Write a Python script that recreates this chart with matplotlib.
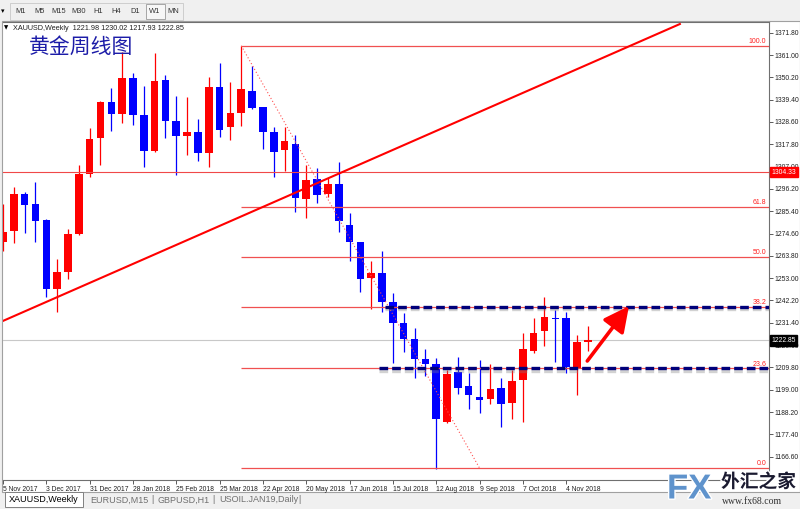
import matplotlib
matplotlib.use('Agg')
import matplotlib.pyplot as plt
import matplotlib.patheffects as pe
import matplotlib.transforms as mtransforms
from matplotlib.patches import Rectangle
import numpy as np

plt.rcParams['font.family'] = ['Liberation Sans', 'Noto Sans CJK SC', 'DejaVu Sans']

# weekly XAUUSD candles, 5 Nov 2017 .. 18 Nov 2018
opens = [1270.5, 1275.8, 1293.9, 1288.9, 1281.1, 1247.7, 1256.0, 1274.4, 1303.4, 1320.7,
         1338.3, 1332.5, 1349.9, 1332.0, 1314.7, 1348.8, 1329.2, 1321.8, 1323.7, 1313.7,
         1345.7, 1326.3, 1333.1, 1343.7, 1335.6, 1323.9, 1315.0, 1317.9, 1291.2, 1300.8,
         1293.6, 1298.7, 1278.7, 1270.3, 1252.9, 1255.3, 1241.6, 1231.1, 1223.4, 1214.0,
         1211.4, 1183.5, 1207.7, 1201.0, 1195.3, 1194.5, 1199.7, 1192.7, 1203.7, 1217.9,
         1227.4, 1233.9, 1233.6, 1209.4, 1221.98]
highs = [1288.9, 1297.1, 1294.7, 1299.5, 1281.5, 1262.3, 1276.8, 1307.8, 1325.7, 1338.9,
         1345.0, 1362.5, 1352.3, 1346.1, 1362.1, 1351.3, 1341.3, 1340.7, 1330.0, 1350.5,
         1357.0, 1348.1, 1365.5, 1355.7, 1335.8, 1326.0, 1326.0, 1322.3, 1307.9, 1306.5,
         1301.6, 1309.4, 1284.4, 1270.5, 1261.3, 1266.1, 1246.0, 1236.0, 1228.7, 1218.6,
         1214.5, 1208.5, 1215.0, 1207.2, 1213.4, 1211.4, 1204.5, 1208.5, 1226.6, 1233.6,
         1244.0, 1237.6, 1236.8, 1225.5, 1230.02]
lows = [1266.1, 1270.0, 1274.8, 1270.5, 1243.8, 1236.6, 1252.6, 1274.0, 1302.0, 1307.8,
        1324.2, 1328.2, 1327.1, 1307.0, 1314.2, 1320.7, 1302.9, 1312.6, 1309.7, 1307.0,
        1321.2, 1319.9, 1326.6, 1334.9, 1315.4, 1301.8, 1304.9, 1284.9, 1282.0, 1289.2,
        1292.5, 1275.5, 1261.3, 1246.1, 1238.1, 1236.8, 1211.8, 1217.4, 1204.5, 1205.8,
        1160.4, 1183.0, 1196.8, 1189.7, 1187.9, 1192.1, 1181.1, 1184.8, 1183.5, 1216.9,
        1220.2, 1212.6, 1206.9, 1196.4, 1217.93]
closes = [1275.3, 1293.7, 1288.5, 1280.7, 1247.7, 1256.0, 1274.4, 1303.4, 1320.3, 1338.4,
          1332.5, 1349.9, 1332.0, 1314.5, 1348.6, 1329.2, 1321.8, 1323.6, 1313.7, 1345.7,
          1324.7, 1333.1, 1344.4, 1335.5, 1323.9, 1313.9, 1319.4, 1291.8, 1300.5, 1293.1,
          1298.6, 1280.7, 1270.3, 1252.6, 1255.3, 1241.6, 1231.1, 1223.4, 1214.0, 1211.4,
          1184.7, 1206.5, 1199.7, 1196.4, 1194.2, 1199.3, 1192.1, 1203.4, 1218.6, 1226.6,
          1234.3, 1233.1, 1209.8, 1222.2, 1222.85]

date_labels = ['5 Nov 2017', '3 Dec 2017', '31 Dec 2017', '28 Jan 2018', '25 Feb 2018',
               '25 Mar 2018', '22 Apr 2018', '20 May 2018', '17 Jun 2018', '15 Jul 2018',
               '12 Aug 2018', '9 Sep 2018', '7 Oct 2018', '4 Nov 2018']
price_ticks = [1166.60, 1177.40, 1188.20, 1199.00, 1209.80, 1220.60, 1231.40, 1242.20,
               1253.00, 1263.80, 1274.60, 1285.40, 1296.20, 1307.00, 1317.80, 1328.60,
               1339.40, 1350.20, 1361.00, 1371.80]

# objects drawn on the chart
fib_high = (22, 1365.5)
fib_low = (44, 1161.1)
fib_ratios = [0.0, 0.236, 0.382, 0.5, 0.618, 1.0]
fib_names = ['0.0', '23.6', '38.2', '50.0', '61.8', '100.0']
hline_price = 1304.33
last_price = 1222.85
trend_start = (0, 1232.3)
trend_end = (62.5, 1376.0)
box_top_start = 35.3
box_bottom_start = 34.7
arrow_from = (53.95, 1212.9)
arrow_to = (57.8, 1239.5)

W, H = 800, 509
fig = plt.figure(figsize=(8, 5.09), dpi=100)
fig.patch.set_facecolor('#f0f0f0')


def fx(x):
    return x / W


def fy(y):
    return 1 - y / H


# chart window
fig.patches.append(Rectangle((fx(2), fy(492)), fx(798), 471 / H, transform=fig.transFigure,
                             facecolor='white', edgecolor='#a0a0a0', lw=0.8, zorder=-5))

ax = fig.add_axes([fx(3), fy(480), fx(766), 458 / H])
ax.set_xlim(0, 70.73)
ax.set_ylim(1155.3, 1376.98)
ax.patch.set_alpha(0)

o = np.array(opens)
c = np.array(closes)
hi = np.array(highs)
lo = np.array(lows)
x = np.arange(len(o))
cols = np.where(c >= o, '#ff0000', '#0000ff')

ax.vlines(x, lo, hi, colors=cols, lw=0.9, zorder=2)
ax.bar(x, np.maximum(np.abs(c - o), 0.6), bottom=np.minimum(o, c), width=0.7,
       color=cols, lw=0, zorder=3)

# current price line
ax.axhline(last_price, color='#c8c8c8', lw=0.8, zorder=1)
ax.axhline(hline_price, color='#f04848', lw=0.8, zorder=4)

# fibonacci retracement
x_end = ax.get_xlim()[1]
for r, name in zip(fib_ratios, fib_names):
    lvl = fib_low[1] + r * (fib_high[1] - fib_low[1])
    ax.hlines(lvl, fib_high[0], x_end, color='#f05050', lw=0.9, zorder=4)
    ax.text(x_end - 0.25, lvl + 0.4, name, color='#ff2020', fontsize=5,
            ha='right', va='bottom', zorder=6)
ax.plot([fib_high[0], fib_low[0]], [fib_high[1], fib_low[1]], color='#ff5050',
        lw=0.8, ls=(0, (1, 2)), zorder=4)

# trendline
ax.plot([trend_start[0], trend_end[0]], [trend_start[1], trend_end[1]],
        color='#ff0000', lw=1.5, zorder=5)

# dashed channel lines
lvl38 = fib_low[1] + 0.382 * (fib_high[1] - fib_low[1])
lvl23 = fib_low[1] + 0.236 * (fib_high[1] - fib_low[1])
shadow = [pe.SimpleLineShadow(offset=(0, -2), shadow_color='#808080', alpha=0.35),
          pe.Normal()]
for start, lvl in [(box_top_start, lvl38), (box_bottom_start, lvl23)]:
    ax.plot([start, x_end], [lvl, lvl], color='#00007a', lw=2.4,
            ls=(0, (2.6, 1.2)), zorder=6, path_effects=shadow, solid_capstyle='butt')

# arrow
ax.annotate('', xy=arrow_to, xytext=arrow_from,
            arrowprops=dict(arrowstyle='-|>,head_length=1.1,head_width=0.55',
                            color='#ff0000', lw=2.6, mutation_scale=14,
                            shrinkA=0, shrinkB=0), zorder=7)

# axes styling
ax.spines['left'].set_visible(False)
for side in ['top', 'right', 'bottom']:
    ax.spines[side].set_color('#707070')
    ax.spines[side].set_linewidth(0.8)

ax.yaxis.tick_right()
ax.set_yticks(price_ticks)
ax.set_yticklabels(['%.2f' % v for v in price_ticks])
ax.set_xticks(np.arange(0, 4 * len(date_labels), 4))
ax.set_xticklabels(date_labels)
for lab in ax.get_xticklabels():
    lab.set_ha('left')
ax.tick_params(axis='both', length=3, width=0.6, color='#404040', labelsize=4.9,
               pad=1.2, labelcolor='#202020')

# right price boxes
trans = mtransforms.blended_transform_factory(ax.transAxes, ax.transData)
ax.text(1.003, hline_price, '%.2f' % hline_price, transform=trans, fontsize=4.9,
        color='white', ha='left', va='center', clip_on=False, zorder=10,
        bbox=dict(boxstyle='square,pad=0.25', fc='#ff0000', ec='#ff0000'))
ax.text(1.003, last_price, '%.2f' % last_price, transform=trans, fontsize=4.9,
        color='white', ha='left', va='center', clip_on=False, zorder=10,
        bbox=dict(boxstyle='square,pad=0.25', fc='#000000', ec='#000000'))

# chart header and caption
fig.text(fx(4), fy(28), '▼', fontsize=4, va='center', family='DejaVu Sans')
fig.text(fx(13), fy(28), 'XAUUSD,Weekly  1221.98 1230.02 1217.93 1222.85',
         fontsize=5.2, va='center', color='#202020')
fig.text(fx(29), fy(47), '黄金周线图', fontsize=15, va='center', color='#1c1ca8',
         family=['Noto Sans CJK SC'])

# toolbar
fig.patches.append(Rectangle((fx(10), fy(19.5)), fx(173), 16.5 / H, transform=fig.transFigure,
                             facecolor='#f0f0f0', edgecolor='#c8c8c8', lw=0.6))
fig.patches.append(Rectangle((fx(146), fy(19)), fx(19), 15 / H, transform=fig.transFigure,
                             facecolor='#f7f7f7', edgecolor='#9a9a9a', lw=0.6))
fig.text(fx(1), fy(11), '▾', fontsize=5, va='center', family='DejaVu Sans')
for lab, px in zip(['M1', 'M5', 'M15', 'M30', 'H1', 'H4', 'D1', 'W1', 'MN'],
                   [21, 40, 59, 79, 98, 116, 135, 155, 173]):
    fig.text(fx(px), fy(11.5), lab, fontsize=5.4, ha='center', va='center', color='#333333')

# bottom tabs
fig.patches.append(Rectangle((fx(5), fy(507)), fx(78), 15 / H, transform=fig.transFigure,
                             facecolor='white', edgecolor='#808080', lw=0.7))
fig.text(fx(44), fy(500), 'XAUUSD,Weekly', fontsize=6.5, ha='center', va='center',
         color='#000000')
for lab, px in [('EURUSD,M15', 90), ('|', 151), ('GBPUSD,H1', 158), ('|', 212),
                ('USOIL.JAN19,Daily', 219), ('|', 298)]:
    fig.text(fx(px), fy(500), lab, fontsize=6.5, ha='left', va='center', color='#707070')

# watermark
fig.text(fx(667), fy(489), 'FX', fontsize=25, fontweight='bold',
         ha='left', va='center', color='#5f93cc', zorder=20,
         path_effects=[pe.withStroke(linewidth=2, foreground='white')])
fig.text(fx(721), fy(482), '外汇之家', fontsize=13.5, fontweight='bold', ha='left',
         va='center', color='#1a1a30', family=['Noto Sans CJK SC'], zorder=20,
         path_effects=[pe.withStroke(linewidth=2, foreground='white')])
fig.text(fx(722), fy(501), 'www.fx68.com', fontsize=7, ha='left', va='center',
         color='#303030', family=['Liberation Serif'], zorder=20)

fig.savefig('out.png', dpi=100, facecolor=fig.get_facecolor())
